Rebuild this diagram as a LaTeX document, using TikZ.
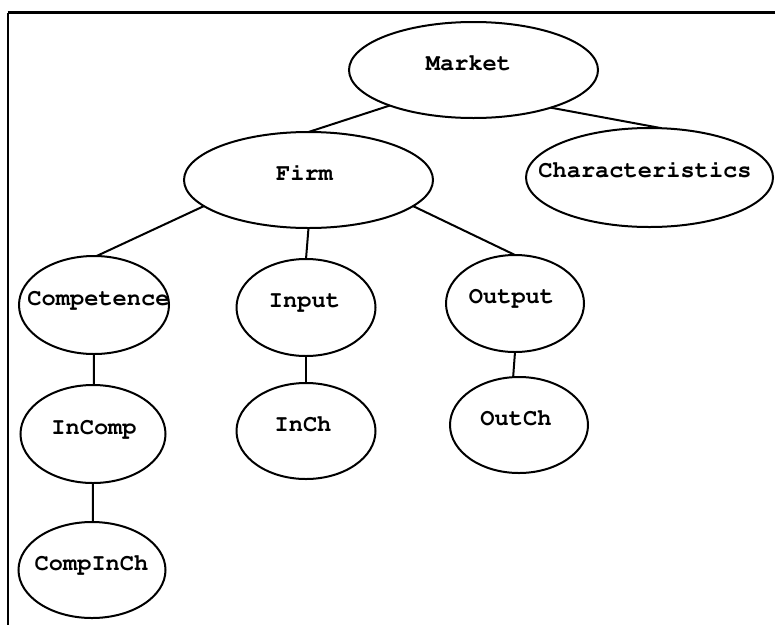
\documentclass[tikz,border=0pt]{standalone}
\usepackage[T1,TU]{fontenc}
\newcommand{\courb}{\fontencoding{T1}\fontfamily{pcr}\fontseries{b}\fontshape{n}\selectfont}
\usetikzlibrary{shapes.geometric}
\tikzset{
  ell/.style={draw, ellipse, line width=2pt, inner sep=0pt, outer sep=0pt},
  lbl/.style={anchor=base, inner sep=0pt, font=\courb\fontsize{23.7}{28}\selectfont},
  conn/.style={line width=2pt},
}
\begin{document}
\begin{tikzpicture}[x=1pt, y=-1pt]
\useasboundingbox (0,0) rectangle (775,624);
% frame
\coordinate (tl) at (7.5,12.5);
\coordinate (tr) at (777,12.5);
\coordinate (bl) at (7.5,626);
\draw[line width=2.8pt] (tl) -- (tr);
\draw[line width=2pt] (tl) -- (bl);
% ellipses
\node[ell, minimum width=249pt, minimum height=96pt] (Market) at (473.5,70) {};
\node[ell, minimum width=247pt, minimum height=99pt] (Char) at (649.5,177.5) {};
\node[ell, minimum width=249pt, minimum height=96pt] (Firm) at (308.5,180) {};
\node[ell, minimum width=150pt, minimum height=98pt] (Comp) at (94,305) {};
\node[ell, minimum width=139pt, minimum height=97pt] (Input) at (306,307.5) {};
\node[ell, minimum width=138pt, minimum height=97pt] (Output) at (515,303.5) {};
\node[ell, minimum width=145pt, minimum height=98pt] (InComp) at (93,434) {};
\node[ell, minimum width=139pt, minimum height=96pt] (InCh) at (306,431) {};
\node[ell, minimum width=138pt, minimum height=96pt] (OutCh) at (519,425) {};
\node[ell, minimum width=147pt, minimum height=96pt] (CompInCh) at (92,570) {};
% labels
\node[lbl] (Market-t) at ([xshift=-5pt]Market.center) {Market};
\node[lbl] (Char-t) at ([xshift=-4.5pt]Char.center) {Characteristics};
\node[lbl] (Firm-t) at ([xshift=-4pt]Firm.center) {Firm};
\node[lbl] (Comp-t) at ([xshift=4.5pt]Comp.center) {Competence};
\node[lbl] (Input-t) at ([xshift=-1.5pt]Input.center) {Input};
\node[lbl] (Output-t) at ([xshift=-3.5pt]Output.center) {Output};
\node[lbl] (InComp-t) at ([xshift=1pt]InComp.center) {InComp};
\node[lbl] (InCh-t) at ([xshift=-3pt]InCh.center) {InCh};
\node[lbl] (OutCh-t) at ([xshift=-3pt]OutCh.center) {OutCh};
\node[lbl] (CompInCh-t) at ([xshift=-0.5pt]CompInCh.center) {CompInCh};
% connectors
\draw[conn] (Market.203) -- (Firm.north);
\draw[conn] (Market.-26) -- (Char.76);
\draw[conn] (Firm.194) -- (Comp.87);
\draw[conn] (Firm.south) -- (Input.north);
\draw[conn] (Firm.-14) -- (Output.north);
\draw[conn] (Comp.south) -- (InComp.89);
\draw[conn] (Input.south) -- (InCh.north);
\draw[conn] (Output.south) -- (OutCh.97);
\draw[conn] (InComp.south) -- (CompInCh.89);
\end{tikzpicture}
\end{document}
